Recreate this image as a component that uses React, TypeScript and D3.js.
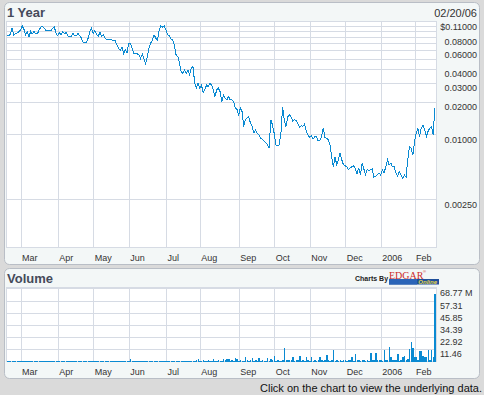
import * as d3 from "d3";

// daily closing price, one value per trading day (Feb 16 2005 → Feb 17 2006)
const pricesFebJun = [
  0.0813, 0.0813, 0.084, 0.0959, 0.0831, 0.0849, 0.0862, 0.0892, 0.0924, 0.1006,
  0.0938, 0.0831, 0.0892, 0.0801, 0.0892, 0.0849, 0.0892, 0.0849, 0.0849, 0.0924,
  0.0979, 0.0992, 0.0959, 0.091, 0.091, 0.091, 0.091, 0.0959, 0.0979, 0.0862,
  0.0813, 0.0873, 0.0831, 0.0892, 0.0849, 0.0873, 0.0813, 0.0801, 0.0801, 0.0862,
  0.0813, 0.0813, 0.0862, 0.0813, 0.0775, 0.0706, 0.0706, 0.0706, 0.0775, 0.0892,
  0.0959, 0.0849, 0.091, 0.0831, 0.0813, 0.0873, 0.0801, 0.0831, 0.0775, 0.0747,
  0.0747, 0.0747, 0.0747, 0.0736, 0.0736, 0.0671, 0.0626, 0.0595, 0.064, 0.0562,
  0.0604, 0.057, 0.0696, 0.0696, 0.0626, 0.0562, 0.0562, 0.0554, 0.0542, 0.0502,
  0.0554, 0.0502, 0.0448, 0.0523, 0.0626, 0.0696,
];
const pricesJunSep = [
  0.0747, 0.0831, 0.0775, 0.0736, 0.0924, 0.1006, 0.0979, 0.1006, 0.0924, 0.0831,
  0.0813, 0.0761, 0.0747, 0.0671, 0.0542, 0.0523, 0.0455, 0.038, 0.0367, 0.0394,
  0.0362, 0.0394, 0.0354, 0.0408, 0.0423, 0.0296, 0.0268, 0.0296, 0.0266, 0.0286,
  0.0243, 0.0257, 0.0286, 0.0276, 0.0296, 0.0286, 0.0257, 0.0223, 0.0257, 0.0266,
  0.0248, 0.02, 0.0231, 0.0215, 0.0208, 0.0223, 0.0208, 0.0208, 0.02, 0.0174,
  0.017, 0.0151, 0.0174, 0.0162, 0.0118, 0.0136, 0.0141, 0.0145, 0.0126, 0.0118,
  0.0103, 0.011, 0.0102, 0.0099, 0.0092, 0.009, 0.0087, 0.0083, 0.0081, 0.0074,
  0.0136, 0.0122, 0.0102, 0.008, 0.0078, 0.008, 0.0102, 0.0178, 0.0136, 0.0118,
  0.0145, 0.0151,
];
const pricesOctFeb = [
  0.0145, 0.0133, 0.0136, 0.0133, 0.0126, 0.0115, 0.012, 0.0118, 0.0124, 0.0106,
  0.0099, 0.0093, 0.0097, 0.009, 0.0095, 0.0095, 0.0087, 0.0087, 0.0095, 0.0115,
  0.0093, 0.0092, 0.0089, 0.008, 0.0062, 0.005, 0.0062, 0.0052, 0.0058, 0.0067,
  0.0058, 0.0052, 0.0051, 0.005, 0.0047, 0.0049, 0.005, 0.0051, 0.0048, 0.0043,
  0.0049, 0.0042, 0.0054, 0.0048, 0.0042, 0.0047, 0.0046, 0.0047, 0.0048, 0.004,
  0.0041, 0.0042, 0.0044, 0.0042, 0.0047, 0.0044, 0.005, 0.0058, 0.0052, 0.0054,
  0.005, 0.005, 0.0044, 0.0041, 0.0045, 0.0042, 0.0039, 0.0042, 0.004, 0.0058,
  0.0077, 0.0074, 0.0064, 0.0085, 0.0102, 0.0114, 0.0095, 0.0114, 0.0122, 0.011,
  0.0095, 0.0106, 0.0114, 0.0118, 0.0099, 0.0174,
];

// daily volume, millions of shares
const volFebJul = [
  0.8, 0.6, 0.9, 0.7, 0.6, 0.8, 0.7, 0.9, 0.6, 0.7,
  0.8, 0.7, 0.6, 0.9, 0.7, 0.6, 0.8, 0.7, 0.6, 0.8,
  0.7, 0.9, 0.6, 0.7, 0.8, 0.6, 0.7, 0.9, 0.7, 0.6,
  0.8, 0.7, 0.6, 0.7, 0.9, 0.6, 0.8, 0.7, 0.6, 0.7,
  0.8, 0.6, 0.7, 0.9, 0.7, 0.6, 0.8, 0.7, 0.6, 0.8,
  0.7, 0.6, 0.9, 0.7, 0.8, 0.6, 0.7, 0.8, 0.6, 0.7,
  0.9, 0.7, 0.6, 0.8, 0.7, 0.6, 0.8, 0.7, 0.9, 0.6,
  0.7, 0.8, 1.0, 2.1, 0.9, 0.7, 0.6, 0.8, 0.7, 0.6,
  0.8, 0.7, 0.9, 0.7, 0.6, 0.8, 0.7, 0.9, 0.6, 0.7,
  0.8, 0.6, 0.7, 0.9, 0.7, 0.8, 0.6, 0.7, 0.9, 0.8,
  0.7, 0.9, 0.8, 0.7, 1.0, 0.8, 0.9, 0.7, 1.1, 0.9,
];
const volAugSep = [
  1.0, 0.9, 1.2, 2.5, 1.0, 0.9, 1.8, 1.0, 0.8, 1.5,
  1.0, 0.9, 2.5, 1.1, 0.9, 1.5, 1.0, 0.9, 2.5, 1.2,
  2.8, 2.5, 1.0, 1.2, 0.9, 3.0, 2.8, 1.0, 1.8, 1.0,
  1.1, 4.0, 1.2, 1.0, 1.9, 3.1, 1.0, 1.2, 0.9, 3.5,
];
const volOctNov = [
  1.0, 1.2, 0.9, 1.0, 3.5, 1.1, 2.5, 1.2, 5.6, 1.0,
  1.2, 0.9, 1.1, 1.5, 12.8, 1.3, 1.9, 1.6, 1.2, 4.0,
  1.0, 1.6, 1.2, 5.6, 1.0, 1.6, 1.1, 4.0, 1.6, 1.0,
  4.7, 1.1, 1.6, 1.0, 1.2, 4.7, 1.6, 1.0, 1.2, 6.3,
  1.6, 1.0, 1.2, 11.0, 1.0, 1.6, 1.0, 1.2, 0.9, 1.2,
];
const volDecFeb = [
  1.2, 1.0, 1.6, 1.2, 4.0, 1.0, 7.2, 1.2, 1.6, 1.0,
  1.6, 1.2, 1.0, 1.2, 1.0, 7.8, 1.6, 1.2, 7.8, 1.6,
  1.6, 1.2, 1.0, 11.0, 1.6, 1.2, 13.4, 4.0, 1.2, 1.6,
  1.2, 7.2, 1.0, 1.6, 4.7, 5.6, 1.6, 2.5, 11.9, 18.7,
  12.8, 4.0, 4.0, 1.6, 9.7, 10.3, 5.6, 4.7, 4.0, 11.0,
  1.6, 11.0, 4.0, 63.5,
];

const holidays = [
  "2005-02-21", "2005-03-25", "2005-05-30", "2005-07-04", "2005-09-05",
  "2005-11-24", "2005-12-26", "2006-01-02", "2006-01-16",
];
const monthLabels = ["Mar", "Apr", "May", "Jun", "Jul", "Aug", "Sep", "Oct", "Nov", "Dec", "2006", "Feb"];
const priceGrid = [0.1, 0.09, 0.08, 0.07, 0.06, 0.05, 0.04, 0.03, 0.02, 0.01, 0.0025];
const priceTicks = [0.11, 0.08, 0.06, 0.04, 0.03, 0.02, 0.01, 0.0025];
const priceTickLabels = ["$0.11000", "0.08000", "0.06000", "0.04000", "0.03000", "0.02000", "0.01000", "0.00250"];
const volumeTicks = [11.46, 22.92, 34.39, 45.85, 57.31, 68.77];
const volumeTickLabels = ["11.46", "22.92", "34.39", "45.85", "57.31", "68.77 M"];

const prices = [...pricesFebJun, ...pricesJunSep, ...pricesOctFeb];
const volumes = [...volFebJul, ...volAugSep, ...volOctNov, ...volDecFeb];

const parse = d3.utcParse("%Y-%m-%d");
const fmt = d3.utcFormat("%Y-%m-%d");
const days = d3
  .utcDay.range(parse("2005-02-16")!, parse("2006-02-18")!)
  .filter((d) => d.getUTCDay() !== 0 && d.getUTCDay() !== 6 && !holidays.includes(fmt(d)));

const monthStarts = days
  .map((d, i) => i)
  .filter((i) => i > 0 && days[i].getUTCMonth() !== days[i - 1].getUTCMonth());

const FONT = "Liberation Sans, Arial, sans-serif";
const GRID = "#d6dbe4";
const BLUE = "#0a8ad2";

export default function App() {
  const plotL = 7;
  const plotR = 437;
  const top = { y0: 22, y1: 248 };
  const vol = { y0: 288, y1: 362 };

  const x = d3.scaleLinear().domain([0, days.length - 1]).range([7, 434.8]);
  const y = d3.scaleLog().domain([0.00088, 0.11]).range([248.3, 21.7]);
  const yv = d3.scaleLinear().domain([0, 68.77]).range([361.7, 288.3]);

  const line = d3
    .line<number>()
    .x((_, i) => x(i))
    .y((d) => y(d));

  const px = (v: number) => Math.round(v) + 0.5;

  const vGrid = (y0: number, y1: number) =>
    monthStarts.map((i) => (
      <line key={i} x1={px(x(i))} x2={px(x(i))} y1={y0} y2={y1} stroke={GRID} />
    ));

  const monthText = (baseline: number) =>
    monthStarts.map((i, k) => (
      <text key={i} x={x(i) + 1.5} y={baseline} fontSize={9} fill="#333">
        {monthLabels[k]}
      </text>
    ));

  return (
    <svg
      width={484}
      height={395}
      style={{ position: "absolute", left: 0, top: 0, fontFamily: FONT }}
    >
      <rect width={484} height={395} fill="#dadada" />

      {/* price panel */}
      <rect x={4.5} y={2.5} width={475} height={262} rx={5} fill="#f3f7f7" stroke="#b9bec6" />
      <text x={7} y={17} fontSize={13} fontWeight="bold" fill="#454a5a">1 Year</text>
      <text x={477} y={17} fontSize={11} fill="#333" textAnchor="end">02/20/06</text>

      <rect x={plotL - 0.5} y={top.y0 - 0.5} width={plotR - plotL} height={top.y1 - top.y0} fill="#fff" stroke={GRID} />
      <g shapeRendering="crispEdges">
        {priceGrid.map((v) => (
          <line key={v} x1={plotL} x2={plotR} y1={px(y(v))} y2={px(y(v))} stroke={GRID} />
        ))}
        {vGrid(top.y0, top.y1)}
      </g>
      <path d={line(prices) ?? ""} fill="none" stroke={BLUE} strokeWidth={1} shapeRendering="crispEdges" />

      {priceTicks.map((v, k) => (
        <text key={v} x={477} y={y(v) + 8.3} fontSize={9} fill="#333" textAnchor="end">
          {priceTickLabels[k]}
        </text>
      ))}
      {monthText(260.5)}

      {/* volume panel */}
      <rect x={4.5} y={268.5} width={475} height={110} rx={5} fill="#f3f7f7" stroke="#b9bec6" />
      <text x={7} y={283} fontSize={13} fontWeight="bold" fill="#454a5a">Volume</text>

      <text x={355} y={281} fontSize={7} fontWeight="bold" fill="#222">Charts By</text>
      <text x={389} y={278.5} fontSize={10} fontFamily="Liberation Serif, Times New Roman, serif" fill="#cc2a2a">EDGAR</text>
      <text x={423} y={272.5} fontSize={4} fill="#cc2a2a">®</text>
      <rect x={389} y={279} width={50} height={5.5} fill="#1f4f9a" />
      <rect x={389} y={279} width={28} height={5.5} fill="#2a64b8" />
      <text x={437} y={284.3} fontSize={6} fontWeight="bold" fontStyle="italic" fill="#e8d84a" textAnchor="end">Online</text>

      <rect x={plotL - 0.5} y={vol.y0 - 0.5} width={plotR - plotL} height={vol.y1 - vol.y0} fill="#fff" stroke={GRID} />
      <g shapeRendering="crispEdges">
        {volumeTicks.map((v) => (
          <line key={v} x1={plotL} x2={plotR} y1={px(yv(v))} y2={px(yv(v))} stroke={GRID} />
        ))}
        {vGrid(vol.y0, vol.y1)}
        {volumes.map((v, i) => (
          <rect
            key={i}
            x={x(i) - 0.5}
            y={yv(v)}
            width={1.5}
            height={yv(0) - yv(v)}
            fill={BLUE}
          />
        ))}
      </g>
      {volumeTicks.map((v, k) => (
        <text key={v} x={440} y={yv(v) + 8} fontSize={9} fill="#333">
          {volumeTickLabels[k]}
        </text>
      ))}
      {monthText(375)}

      <text x={482} y={392} fontSize={11} fill="#111" textAnchor="end">
        Click on the chart to view the underlying data.
      </text>
    </svg>
  );
}
